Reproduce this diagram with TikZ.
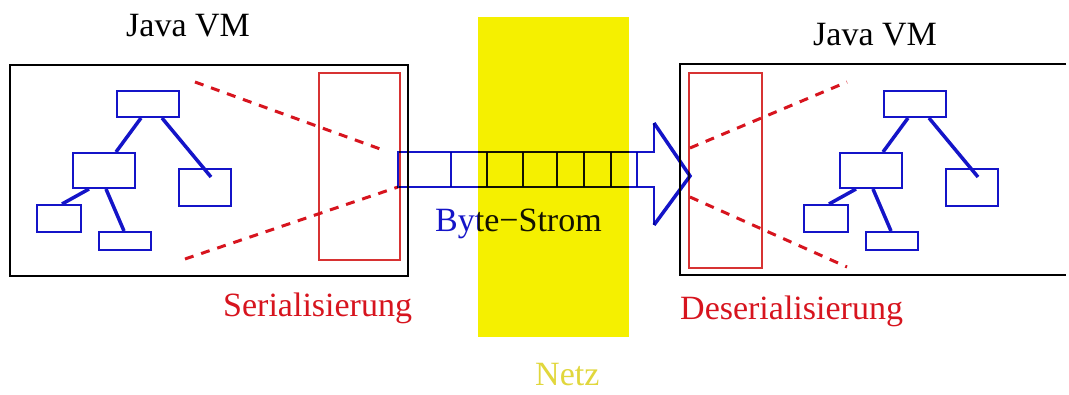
\documentclass[tikz,border=0pt]{standalone}
\usepackage{fontspec}
\setmainfont{Liberation Serif}
\usetikzlibrary{calc}
\definecolor{tblue}{RGB}{20,20,200}
\definecolor{tred}{RGB}{215,20,30}
\definecolor{boxred}{RGB}{215,50,50}
\definecolor{netzyellow}{RGB}{245,240,0}
\definecolor{netztext}{RGB}{225,215,60}
\tikzset{
  lbl/.style={font=\fontsize{34}{40}\selectfont, inner sep=0pt, anchor=base west},
  vmbox/.style={draw=black, line width=2pt, inner sep=0pt, anchor=north west},
  serbox/.style={draw=boxred, line width=1.5pt, inner sep=0pt, anchor=north west},
  tbox/.style={draw=tblue, line width=2pt, inner sep=0pt, anchor=north west},
  tedge/.style={draw=tblue, line width=3.5pt},
  rdash/.style={draw=tred, line width=3pt, dash pattern=on 9pt off 8pt},
  stream/.style={draw=tblue, line width=1.4pt},
}
\begin{document}
\begin{tikzpicture}[x=1pt,y=-1pt]
\useasboundingbox[fill=white] (0,0) rectangle (1069,394);
% network
\fill[netzyellow] (478,17) rectangle (629,337);
\node[lbl, text=netztext] (netz) at (535,385) {Netz};
% left VM
\node[vmbox, minimum width=398pt, minimum height=211pt] (vmL) at (9,64) {};
\node[lbl] (javaL) at (126,36) {Java VM};
\node[serbox, minimum width=81pt, minimum height=187pt] (serL) at (318,72) {};
\node[lbl, text=tred] (serT) at (223,316) {Serialisierung};
% right VM (cut at image border)
\coordinate (vmRtr) at (1066,64);
\coordinate (vmRtl) at (680,64);
\coordinate (vmRbl) at (680,275);
\coordinate (vmRbr) at (1066,275);
\draw[black, line width=2pt] (vmRtr) -- (vmRtl) -- (vmRbl) -- (vmRbr);
\node[lbl] (javaR) at (813,45) {Java VM};
\node[serbox, minimum width=73pt, minimum height=195pt] (serR) at (688,72) {};
\node[lbl, text=tred] (deserT) at (680,319) {Deserialisierung};
% trees
\foreach \s/\dx in {L/0, R/767} {
  \begin{scope}[xshift=\dx pt]
    \node[tbox, minimum width=62pt, minimum height=26pt] (top\s) at (116,90) {};
    \node[tbox, minimum width=62pt, minimum height=35pt] (mid\s) at (72,152) {};
    \node[tbox, minimum width=52pt, minimum height=37pt] (rgt\s) at (178,168) {};
    \node[tbox, minimum width=44pt, minimum height=27pt] (bl\s) at (36,204) {};
    \node[tbox, minimum width=52pt, minimum height=18pt] (bm\s) at (98,231) {};
    \coordinate (end\s) at (211,177);
  \end{scope}
  \draw[tedge] ($(top\s.south west)+(25,0)$) -- ($(mid\s.north west)+(44,0)$);
  \draw[tedge] ($(top\s.south west)+(46,0)$) -- (end\s);
  \draw[tedge] ($(mid\s.south west)+(17,0)$) -- ($(bl\s.north west)+(26,0)$);
  \draw[tedge] ($(mid\s.south west)+(34,0)$) -- ($(bm\s.north west)+(26,0)$);
}
% dashed projection lines
\coordinate (dLa) at (195,82);  \coordinate (dLb) at (383,150);
\coordinate (dLc) at (185,259); \coordinate (dLd) at (398,187);
\coordinate (dRa) at (690,148); \coordinate (dRb) at (847,82);
\coordinate (dRc) at (690,197); \coordinate (dRd) at (847,267);
\draw[rdash] (dLa) -- (dLb);
\draw[rdash] (dLc) -- (dLd);
\draw[rdash] (dRa) -- (dRb);
\draw[rdash] (dRc) -- (dRd);
% byte stream arrow
\begin{scope}[blend mode=multiply]
  \coordinate (sTL) at (398,152);
  \coordinate (sBL) at (398,187);
  \coordinate (sTR) at (654,152);
  \coordinate (sBR) at (654,187);
  \coordinate (hTop) at (654,123);
  \coordinate (tip) at (690,176);
  \coordinate (hBot) at (654,225);
  \draw[stream] (hTop) -- (sTR) -- (sTL) -- (sBL) -- (sBR) -- (hBot);
  \draw[draw=tblue, line width=3.5pt, line join=miter] (hTop) -- (tip) -- (hBot);
  \foreach \x in {451,487,523,557,584,611,637}
    \draw[stream] (\x,152) -- (\x,187);
  \node[lbl, text=tblue] (byte) at (435,231) {Byte−Strom};
\end{scope}
\end{tikzpicture}
\end{document}
